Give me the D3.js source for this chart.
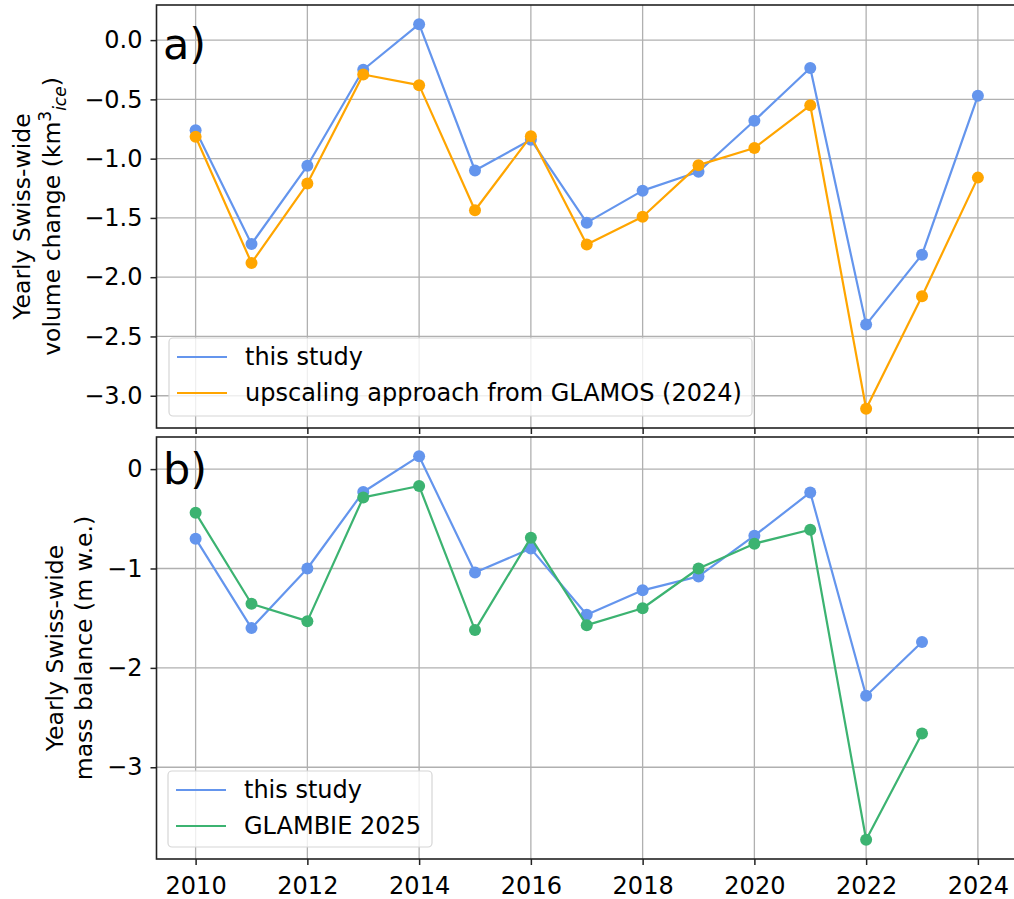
<!DOCTYPE html>
<html>
<head>
<meta charset="utf-8">
<script src="https://cdn.jsdelivr.net/npm/d3@7"></script>
<style>
  html, body { margin: 0; padding: 0; background: #fff; }
  svg text { font-family: "DejaVu Sans", sans-serif; fill: #000; }
</style>
</head>
<body>
<svg id="chart" width="1014" height="899"></svg>
<script>
// ---------- data ----------
const volYears = [2010,2011,2012,2013,2014,2015,2016,2017,2018,2019,2020,2021,2022,2023,2024];
const volThisStudy = [-0.76,-1.72,-1.06,-0.25,0.134,-1.10,-0.84,-1.54,-1.27,-1.11,-0.68,-0.235,-2.40,-1.81,-0.47];
const volGlamos    = [-0.815,-1.88,-1.21,-0.29,-0.38,-1.435,-0.81,-1.725,-1.49,-1.055,-0.91,-0.55,-3.11,-2.16,-1.16];

const mbYears = [2010,2011,2012,2013,2014,2015,2016,2017,2018,2019,2020,2021,2022,2023];
const mbThisStudy = [-0.70,-1.60,-1.00,-0.23,0.13,-1.04,-0.80,-1.465,-1.22,-1.08,-0.67,-0.235,-2.28,-1.74];
const mbGlambie   = [-0.44,-1.355,-1.53,-0.285,-0.17,-1.62,-0.69,-1.57,-1.40,-1.00,-0.75,-0.61,-3.73,-2.66];

const xTicks = [2010,2012,2014,2016,2018,2020,2022,2024];
const volTicks = [0.0,-0.5,-1.0,-1.5,-2.0,-2.5,-3.0];
const mbTicks = [0,-1,-2,-3];

const legendTop = ["this study", "upscaling approach from GLAMOS (2024)"];
const legendBottom = ["this study", "GLAMBIE 2025"];

// ---------- styles ----------
const BLUE = "#6495ED", ORANGE = "#FFA500", GREEN = "#3CB371";
const svg = d3.select("#chart");
const left = 156.5, right = 1017;

const x = d3.scaleLinear().domain([2009.3, 2024.7]).range([left, right]);

function pad(vals) {
  const lo = d3.min(vals), hi = d3.max(vals), m = (hi - lo) * 0.05;
  return [lo - m, hi + m];
}

function panel(opts) {
  const {top, bottom, series, ticks, fmt, showXLabels, tag, tagBaseline, labelLines, legend} = opts;
  const all = series.flatMap(s => s.values);
  const y = d3.scaleLinear().domain(pad(all)).range([bottom, top]);
  const g = svg.append("g");

  // grid
  g.append("g").selectAll("line").data(xTicks).join("line")
    .attr("x1", d => x(d)).attr("x2", d => x(d))
    .attr("y1", top).attr("y2", bottom)
    .attr("stroke", "#b0b0b0").attr("stroke-width", 1.3);
  g.append("g").selectAll("line").data(ticks).join("line")
    .attr("x1", left).attr("x2", right)
    .attr("y1", d => y(d)).attr("y2", d => y(d))
    .attr("stroke", "#b0b0b0").attr("stroke-width", 1.3);

  // axes
  const yAxis = d3.axisLeft(y).tickValues(ticks).tickSize(6).tickPadding(8)
    .tickFormat(fmt);
  const ya = g.append("g").attr("transform", `translate(${left},0)`).call(yAxis);
  const xAxis = d3.axisBottom(x).tickValues(xTicks).tickSize(6).tickPadding(6)
    .tickFormat(showXLabels ? d3.format("d") : () => "");
  const xa = g.append("g").attr("transform", `translate(0,${bottom})`).call(xAxis);
  [ya, xa].forEach(a => {
    a.select(".domain").remove();
    a.selectAll(".tick line").attr("stroke", "#222").attr("stroke-width", 1.5);
    a.selectAll(".tick text").attr("font-size", 24).attr("fill", "#000");
  });
  xa.selectAll(".tick text").attr("dy", "0.95em");

  // spines
  g.append("rect").attr("x", left).attr("y", top)
    .attr("width", right - left).attr("height", bottom - top)
    .attr("fill", "none").attr("stroke", "#222").attr("stroke-width", 1.6);

  // series
  const clip = "clip" + top;
  svg.append("clipPath").attr("id", clip).append("rect")
    .attr("x", left).attr("y", top - 8).attr("width", right - left).attr("height", bottom - top + 16);
  const sg = g.append("g").attr("clip-path", `url(#${clip})`);
  series.forEach(s => {
    const pts = s.years.map((yr, i) => [yr, s.values[i]]);
    sg.append("path").datum(pts)
      .attr("d", d3.line().x(d => x(d[0])).y(d => y(d[1])))
      .attr("fill", "none").attr("stroke", s.color).attr("stroke-width", 2.2)
      .attr("stroke-linejoin", "round");
    sg.append("g").selectAll("circle").data(pts).join("circle")
      .attr("cx", d => x(d[0])).attr("cy", d => y(d[1])).attr("r", 6)
      .attr("fill", s.color);
  });

  // tag
  g.append("text").attr("x", 163).attr("y", tagBaseline).attr("font-size", 43).text(tag);

  // y label (two lines)
  const cy = (top + bottom) / 2;
  labelLines.forEach(L => {
    const t = g.append("text")
      .attr("transform", `translate(${L.x},${cy}) rotate(-90)`)
      .attr("text-anchor", "middle").attr("font-size", 23.5);
    L.parts.forEach(p => {
      const ts = t.append("tspan").text(p.text);
      if (p.dy) ts.attr("dy", p.dy);
      if (p.dx) ts.attr("dx", p.dx);
      if (p.size) ts.attr("font-size", p.size);
      if (p.italic) ts.attr("font-style", "italic");
    });
  });

  // legend
  const lg = g.append("g");
  lg.append("rect").attr("x", legend.x).attr("y", legend.y)
    .attr("width", legend.w).attr("height", legend.h).attr("rx", 4)
    .attr("fill", "#fff").attr("fill-opacity", 0.8)
    .attr("stroke", "#d6d6d6").attr("stroke-width", 1.2);
  legend.labels.forEach((lab, i) => {
    const yy = legend.y + 19 + i * 36;
    lg.append("line").attr("x1", legend.x + 8).attr("x2", legend.x + 58)
      .attr("y1", yy).attr("y2", yy)
      .attr("stroke", series[i].color).attr("stroke-width", 2.2);
    lg.append("text").attr("x", legend.x + 76).attr("y", yy)
      .attr("dy", "0.35em").attr("font-size", 24).attr("fill", "#222").text(lab);
  });
}

const minus = s => s.replace("-", "\u2212");

panel({
  top: 5, bottom: 428,
  series: [
    {years: volYears, values: volThisStudy, color: BLUE},
    {years: volYears, values: volGlamos, color: ORANGE}
  ],
  ticks: volTicks,
  fmt: d => minus(d3.format(".1f")(d)),
  showXLabels: false,
  tag: "a)", tagBaseline: 59,
  labelLines: [
    {x: 29.5, parts: [{text: "Yearly Swiss-wide"}]},
    {x: 60, parts: [
      {text: "volume change (km"},
      {text: "3", dy: -9, size: 17},
      {text: "ice", dy: 15, size: 17, italic: true},
      {text: ")", dy: -6}
    ]}
  ],
  legend: {x: 169, y: 338, w: 583, h: 78, labels: legendTop}
});

panel({
  top: 437, bottom: 859,
  series: [
    {years: mbYears, values: mbThisStudy, color: BLUE},
    {years: mbYears, values: mbGlambie, color: GREEN}
  ],
  ticks: mbTicks,
  fmt: d => minus(d3.format("d")(d)),
  showXLabels: true,
  tag: "b)", tagBaseline: 484,
  labelLines: [
    {x: 62.5, parts: [{text: "Yearly Swiss-wide"}]},
    {x: 91.5, parts: [{text: "mass balance (m w.e.)"}]}
  ],
  legend: {x: 168, y: 771, w: 264, h: 76, labels: legendBottom}
});
</script>
</body>
</html>
